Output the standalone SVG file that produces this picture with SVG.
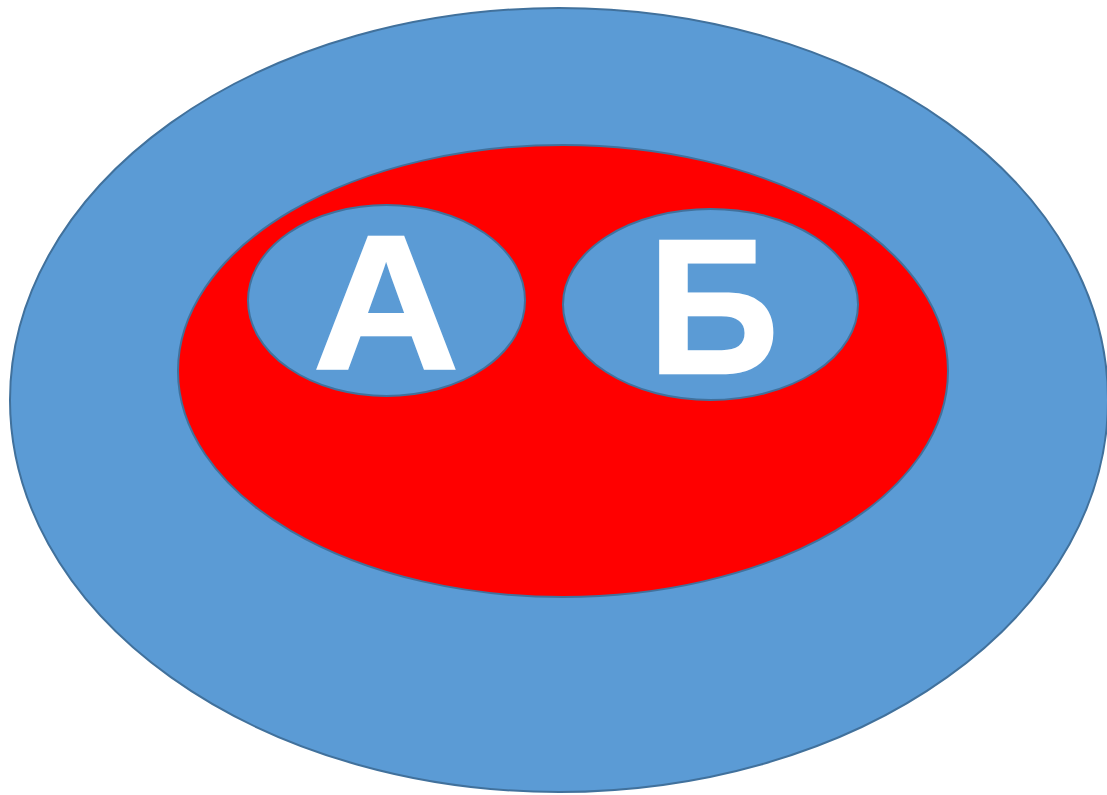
<svg xmlns="http://www.w3.org/2000/svg" width="1107" height="795" viewBox="0 0 1107 795">
<style>
.e{stroke:#41719C;stroke-width:2}
.b{fill:#5B9BD5}
.t{fill:#FFFFFF;stroke:#FFFFFF;stroke-width:2.5;stroke-linejoin:miter;font-family:"Liberation Sans",Arial,sans-serif;font-weight:bold;font-size:191px;text-anchor:middle}
</style>
<rect width="1107" height="795" fill="#FFFFFF"/>
<g id="outer"><ellipse class="e b" cx="559" cy="400" rx="549" ry="392"/></g>
<g id="inner"><ellipse class="e" fill="#FF0000" cx="563" cy="371" rx="385" ry="226"/></g>
<g id="nodeA"><ellipse class="e b" cx="386.5" cy="300.5" rx="138.5" ry="95.5"/><text class="t" transform="translate(386,368.8) scale(1.06,1)">А</text></g>
<g id="nodeB"><ellipse class="e b" cx="710.5" cy="304.5" rx="147.5" ry="95.5"/><text class="t" transform="translate(713.5,372.8) scale(0.95,1)">Б</text></g>
<g id="connectors"/>
</svg>
